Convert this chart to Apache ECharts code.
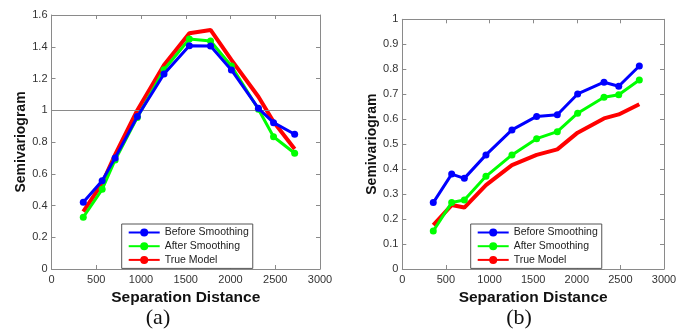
<!DOCTYPE html>
<html><head><meta charset="utf-8">
<script src="https://cdn.jsdelivr.net/npm/echarts@6/dist/echarts.min.js"></script>
<style>html,body{margin:0;padding:0;background:#fff}#c{width:688px;height:336px}</style>
</head><body><div id="c"></div>
<script>
const distances = [355, 566, 711, 959, 1257, 1540, 1777, 2010, 2312, 2481, 2717];
const aBefore = [0.42, 0.556, 0.70, 0.96, 1.228, 1.407, 1.405, 1.254, 1.012, 0.922, 0.849];
const aAfter  = [0.326, 0.502, 0.687, 0.955, 1.255, 1.449, 1.436, 1.279, 1.006, 0.833, 0.729];
const aTrue   = [0.361, 0.54, 0.72, 1.0, 1.285, 1.485, 1.506, 1.317, 1.085, 0.928, 0.756];
const bBefore = [0.266, 0.380, 0.363, 0.457, 0.557, 0.611, 0.618, 0.701, 0.748, 0.732, 0.813];
const bAfter  = [0.152, 0.266, 0.276, 0.371, 0.457, 0.522, 0.550, 0.624, 0.688, 0.698, 0.757];
const bTrue   = [0.176, 0.256, 0.246, 0.336, 0.416, 0.457, 0.479, 0.546, 0.603, 0.619, 0.660];
const xTicks = [0, 500, 1000, 1500, 2000, 2500, 3000];
const names = ['Before Smoothing', 'After Smoothing', 'True Model'];
const colors = ['#0000ff', '#00ff00', '#ff0000'];

const zip = ys => distances.map((x, i) => [x, ys[i]]);
const FONT = 'Liberation Sans';
const frame = '#8a8a8a';

function xAx(grid, pos) {
  return {
    type: 'value', gridIndex: grid, position: pos, min: xTicks[0], max: xTicks[xTicks.length - 1],
    interval: xTicks[1] - xTicks[0],
    axisLine: {show: true, onZero: false, lineStyle: {color: frame, width: 1}},
    axisTick: {show: true, inside: true, length: 4, lineStyle: {color: frame}},
    axisLabel: {show: pos === 'bottom', color: '#333', fontSize: 11, fontFamily: FONT, margin: 5,
      formatter: v => String(v)},
    splitLine: {show: false},
    name: pos === 'bottom' ? 'Separation Distance' : '',
    nameLocation: 'middle', nameGap: 15,
    nameTextStyle: {color: '#111', fontSize: 15.5, fontWeight: 'bold', fontFamily: FONT}
  };
}
function yAx(grid, pos, max, interval) {
  return {
    type: 'value', gridIndex: grid, position: pos, min: 0, max: max, interval: interval,
    axisLine: {show: true, onZero: false, lineStyle: {color: frame, width: 1}},
    axisTick: {show: true, inside: true, length: 4, lineStyle: {color: frame}},
    axisLabel: {show: pos === 'left', color: '#333', fontSize: 11, fontFamily: FONT, margin: 4},
    splitLine: {show: false},
    name: pos === 'left' ? 'Semivariogram' : '',
    nameLocation: 'middle', nameGap: 22,
    nameTextStyle: {color: '#111', fontSize: 14, fontWeight: 'bold', fontFamily: FONT}
  };
}
function ser(name, idx, data, gi) {
  const isTrue = idx === 2;
  return {
    name: name, type: 'line', xAxisIndex: gi * 2, yAxisIndex: gi * 2,
    data: zip(data),
    symbol: isTrue ? 'none' : 'circle', symbolSize: 7,
    lineStyle: {color: colors[idx], width: isTrue ? 4 : 3},
    itemStyle: {color: colors[idx]},
    z: isTrue ? 3 : (idx === 0 ? 5 : 4),
    animation: false
  };
}
function legend(left) {
  return {
    left: left, top: 224, orient: 'vertical',
    data: names, itemWidth: 31, itemHeight: 10, itemGap: 2.7,
    padding: [3, 4, 3, 6],
    backgroundColor: '#fff', borderColor: '#555', borderWidth: 1,
    textStyle: {fontSize: 10.5, fontFamily: FONT, color: '#222'},
    selectedMode: false
  };
}

const series = [
  ser(names[0], 0, aBefore, 0), ser(names[1], 1, aAfter, 0), ser(names[2], 2, aTrue, 0),
  ser(names[0], 0, bBefore, 1), ser(names[1], 1, bAfter, 1), ser(names[2], 2, bTrue, 1)
];
series[0].markLine = {
  silent: true, symbol: 'none', label: {show: false},
  lineStyle: {color: '#8a8a8a', width: 1, type: 'solid'},
  data: [{yAxis: 1}]
};

const chart = echarts.init(document.getElementById('c'));
chart.setOption({
  animation: false,
  backgroundColor: '#fff',
  grid: [
    {left: 51.5, right: 368, top: 15, bottom: 67},
    {left: 402.3, right: 24, top: 19.3, bottom: 67}
  ],
  xAxis: [xAx(0, 'bottom'), xAx(0, 'top'), xAx(1, 'bottom'), xAx(1, 'top')],
  yAxis: [yAx(0, 'left', 1.6, 0.2), yAx(0, 'right', 1.6, 0.2), yAx(1, 'left', 1, 0.1), yAx(1, 'right', 1, 0.1)],
  legend: [legend(121.7), legend(470.7)],
  series: series,
  graphic: [
    {type: 'text', x: 158, y: 318, style: {text: '(a)', font: '22px "Liberation Serif"', fill: '#111', textAlign: 'center', textVerticalAlign: 'middle'}},
    {type: 'text', x: 519, y: 318, style: {text: '(b)', font: '22px "Liberation Serif"', fill: '#111', textAlign: 'center', textVerticalAlign: 'middle'}}
  ]
});
</script></body></html>
